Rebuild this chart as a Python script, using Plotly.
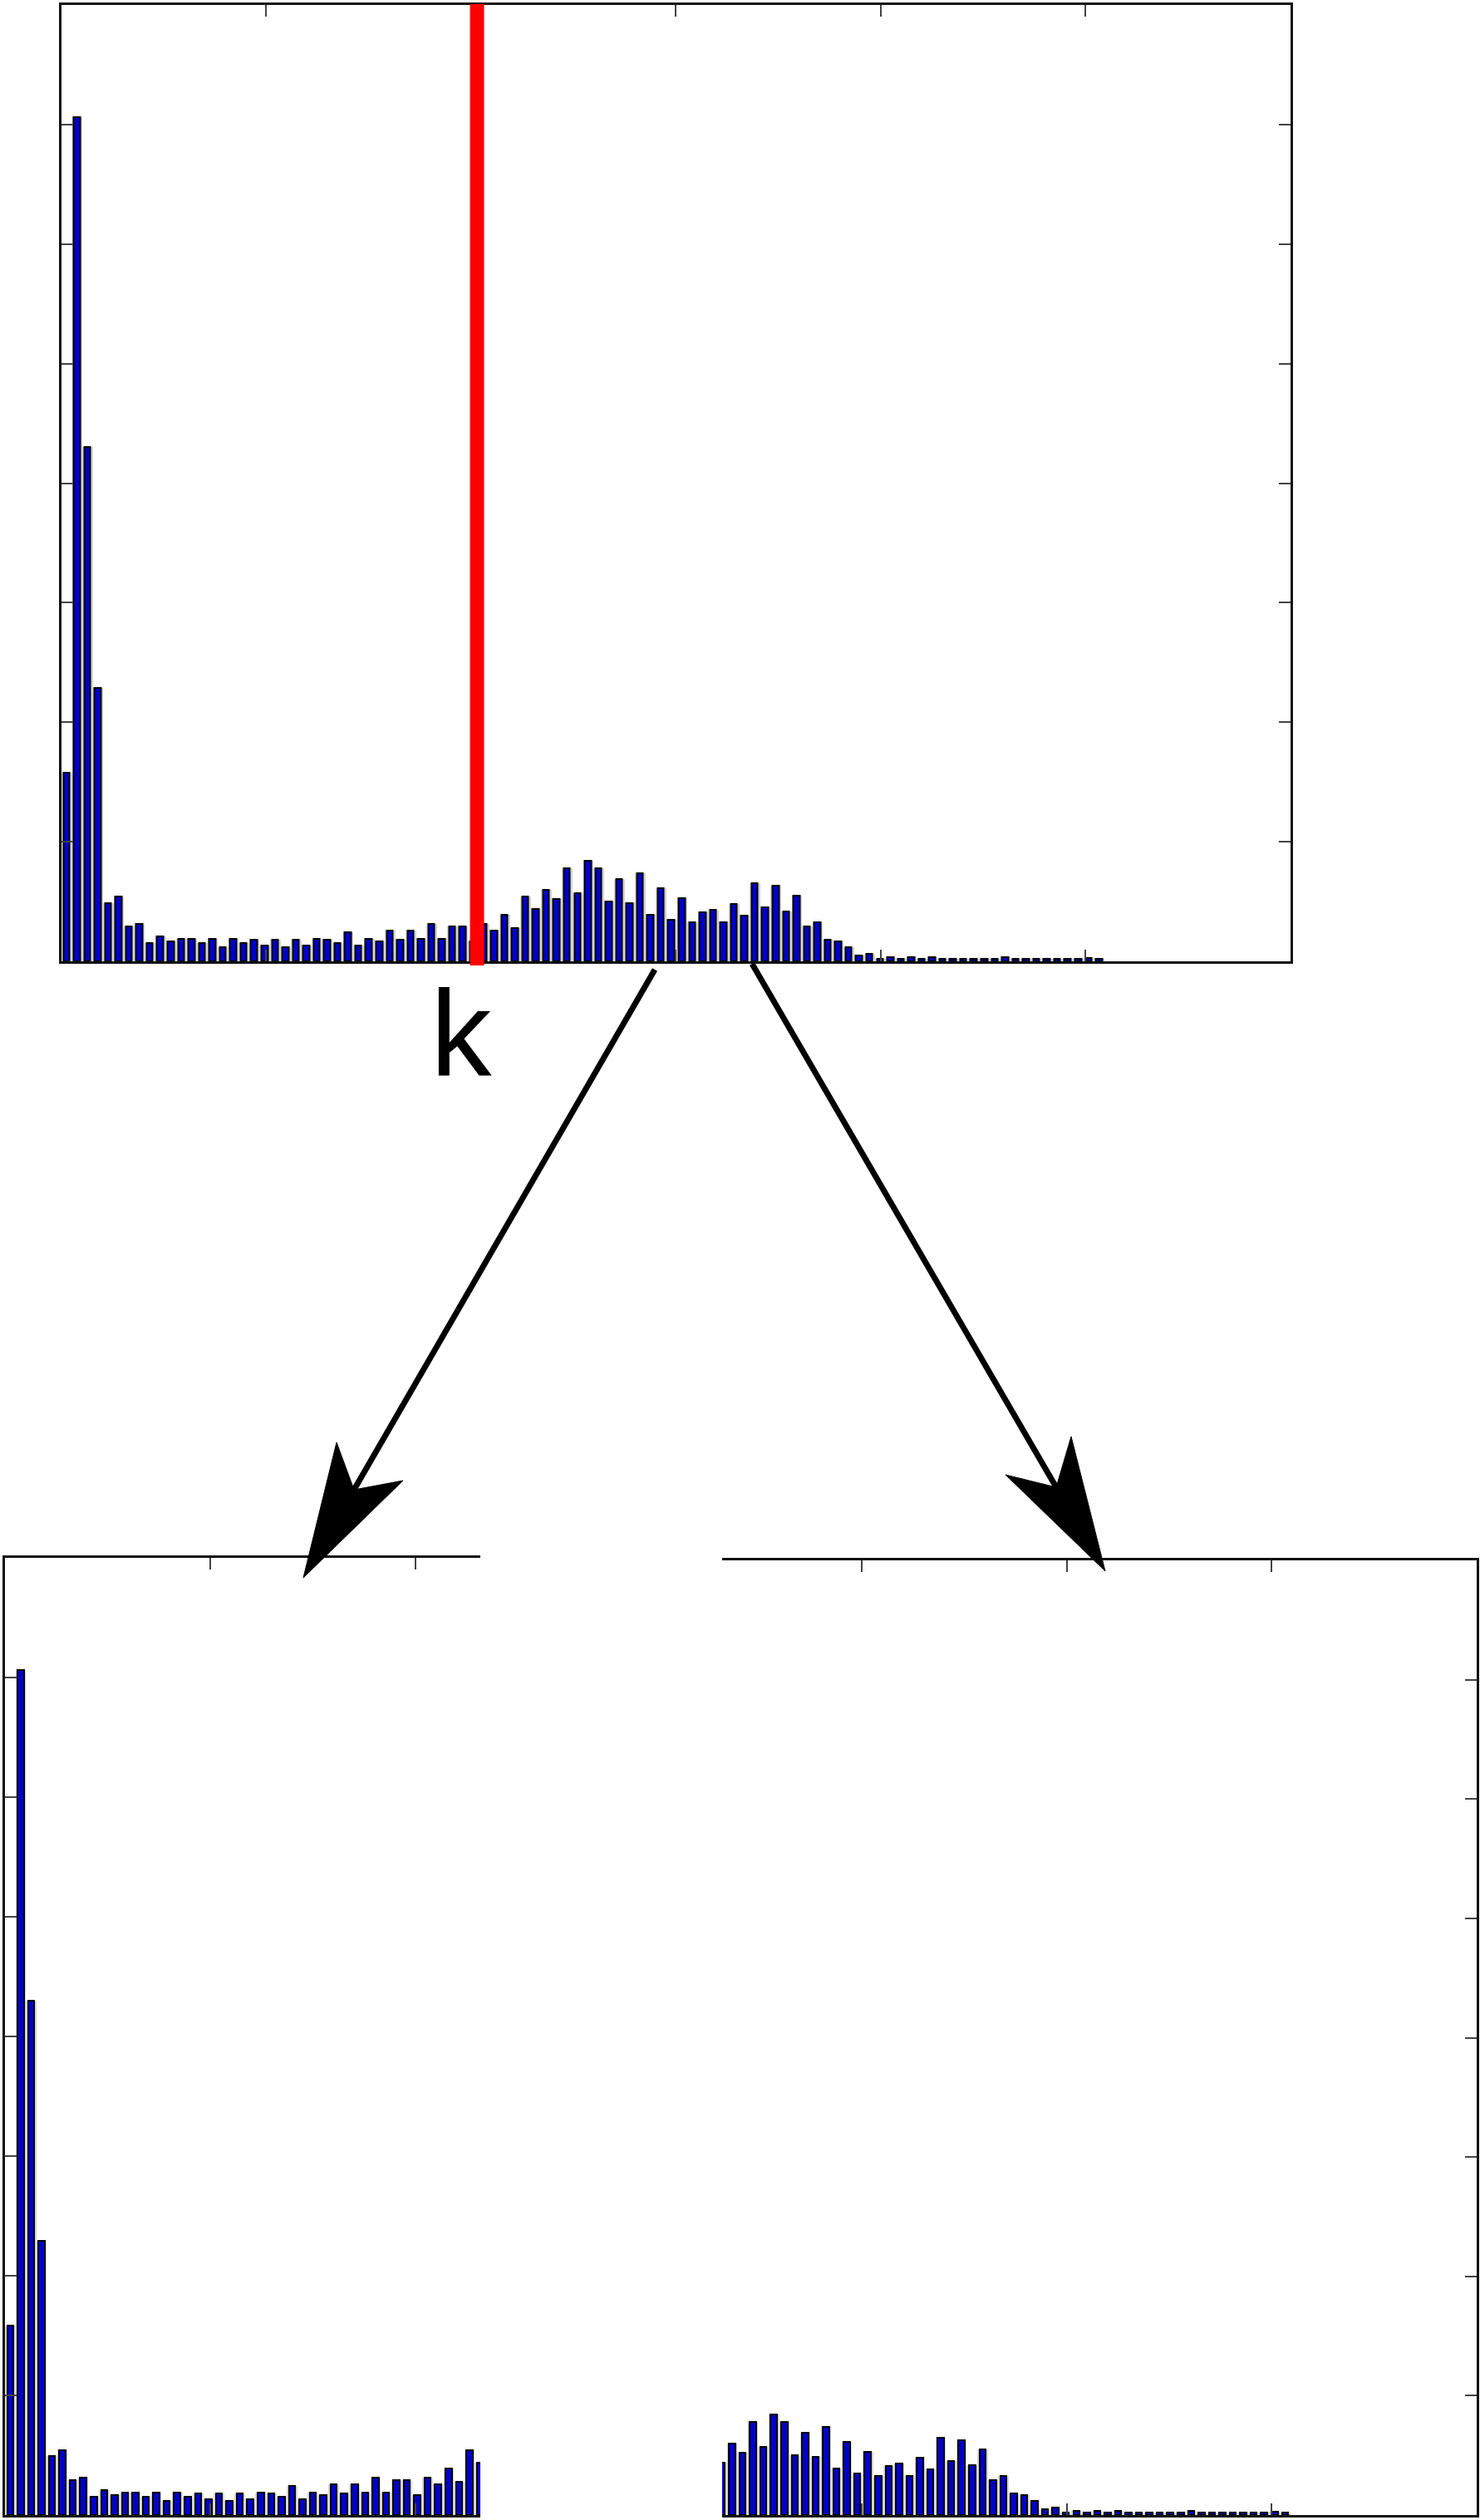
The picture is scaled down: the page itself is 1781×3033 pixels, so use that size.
import numpy as np
import plotly.graph_objects as go

# histogram counts per bin (axis units: 1 tick = 1)
counts = [
    1.58, 7.06, 4.30, 2.29, 0.49, 0.54, 0.29, 0.31, 0.15, 0.21,
    0.17, 0.19, 0.19, 0.15, 0.19, 0.12, 0.19, 0.15, 0.18, 0.13,
    0.18, 0.12, 0.18, 0.13, 0.19, 0.18, 0.15, 0.245, 0.13, 0.19,
    0.17, 0.26, 0.18, 0.26, 0.19, 0.31, 0.19, 0.29, 0.29, 0.17,
    0.31, 0.26, 0.39, 0.28, 0.54, 0.44, 0.60, 0.52, 0.78, 0.57,
    0.84, 0.78, 0.50, 0.69, 0.49, 0.74, 0.39, 0.61, 0.35, 0.53,
    0.33, 0.41, 0.43, 0.33, 0.48, 0.38, 0.65, 0.45, 0.63, 0.42,
    0.55, 0.29, 0.33, 0.18, 0.17, 0.12, 0.05, 0.065, 0.02, 0.035,
    0.02, 0.035, 0.02, 0.035, 0.02, 0.02, 0.02, 0.02, 0.02, 0.02,
    0.035, 0.02, 0.02, 0.02, 0.02, 0.02, 0.02, 0.02, 0.025, 0.02,
]
bin_edges = np.linspace(0, 5.09, len(counts) + 1)
x_ticks = [1, 2, 3, 4, 5]
y_ticks = [1, 2, 3, 4, 5, 6, 7]
x_max = 6
y_max = 8
k_value = 2.03      # threshold k (red line)
split_value = 2.318  # where the lower two panels are cut

centers = (bin_edges[:-1] + bin_edges[1:]) / 2
bin_w = bin_edges[1] - bin_edges[0]

W, H = 1781, 3033
def px(x):
    return x / W
def py(y):
    return 1 - y / H

top_dom = [px(73.5), px(1553)]

fig = go.Figure()
for ax in ['', '2', '3']:
    fig.add_bar(x=centers, y=counts, width=bin_w, marker=dict(color='#d4d4d4', line_width=0),
                xaxis='x' + ax, yaxis='y' + ax, hoverinfo='skip')
    fig.add_bar(x=centers, y=counts, width=bin_w * 0.6,
                marker=dict(color='#0000cc', line=dict(color='black', width=2)),
                xaxis='x' + ax, yaxis='y' + ax)

axis_style = dict(showline=True, linecolor='#111111', linewidth=3, ticks='inside', ticklen=14,
                  tickwidth=2, tickcolor='#444444', showticklabels=False, showgrid=False,
                  zeroline=False, fixedrange=True)

fig.update_layout(
    width=W, height=H, margin=dict(l=0, r=0, t=0, b=0),
    paper_bgcolor='white', plot_bgcolor='white', showlegend=False,
    barmode='overlay', bargap=0,
    xaxis=dict(axis_style, domain=top_dom, range=[0, x_max], tickvals=x_ticks,
               mirror='ticks', anchor='y'),
    yaxis=dict(axis_style, domain=[py(1157), py(6)], range=[0, y_max], tickvals=y_ticks,
               mirror='ticks', anchor='x'),
    xaxis2=dict(axis_style, domain=[px(6), px(578)], range=[0, split_value], tickvals=x_ticks,
                mirror='ticks', anchor='y2'),
    yaxis2=dict(axis_style, domain=[py(3027), py(1875)], range=[0, y_max], tickvals=y_ticks,
                anchor='x2', side='left'),
    xaxis3=dict(axis_style, domain=[px(869), px(1777)], range=[split_value, x_max],
                tickvals=x_ticks, mirror='ticks', anchor='y3'),
    yaxis3=dict(axis_style, domain=[py(3027), py(1878)], range=[0, y_max], tickvals=y_ticks,
                anchor='x3', side='right'),
)

# red line at k, placed through the top axis scale
k_paper = top_dom[0] + k_value / x_max * (top_dom[1] - top_dom[0])
shapes = [dict(type='line', xref='paper', yref='paper', x0=k_paper, x1=k_paper,
               y0=py(1162), y1=py(5), line=dict(color='#ff0000', width=17), layer='above')]

# arrows from the top histogram down to the two parts
def arrow(start, notch, tip, barb1, barb2):
    out = [dict(type='line', xref='paper', yref='paper',
                x0=px(start[0]), y0=py(start[1]), x1=px(notch[0]), y1=py(notch[1]),
                line=dict(color='black', width=7), layer='above')]
    path = 'M {} {} L {} {} L {} {} L {} {} Z'.format(
        px(tip[0]), py(tip[1]), px(barb1[0]), py(barb1[1]),
        px(notch[0]), py(notch[1]), px(barb2[0]), py(barb2[1]))
    out.append(dict(type='path', xref='paper', yref='paper', path=path,
                    fillcolor='black', line=dict(color='black', width=1), layer='above'))
    return out

shapes += arrow((788, 1167), (426, 1793), (365, 1899), (405, 1736), (485, 1782))
shapes += arrow((905, 1160), (1271, 1790), (1330, 1891), (1289, 1729), (1210, 1775))
fig.update_layout(shapes=shapes)

fig.add_annotation(text='k', x=px(555), y=py(1243), xref='paper', yref='paper',
                   showarrow=False, xanchor='center', yanchor='middle',
                   font=dict(family='Liberation Sans', size=147, color='black'))

# drop the default page margin so the figure sits at the window corner
fig.write_html("out.html", config={'displayModeBar': False},
               post_script="document.body.style.margin='0';")
